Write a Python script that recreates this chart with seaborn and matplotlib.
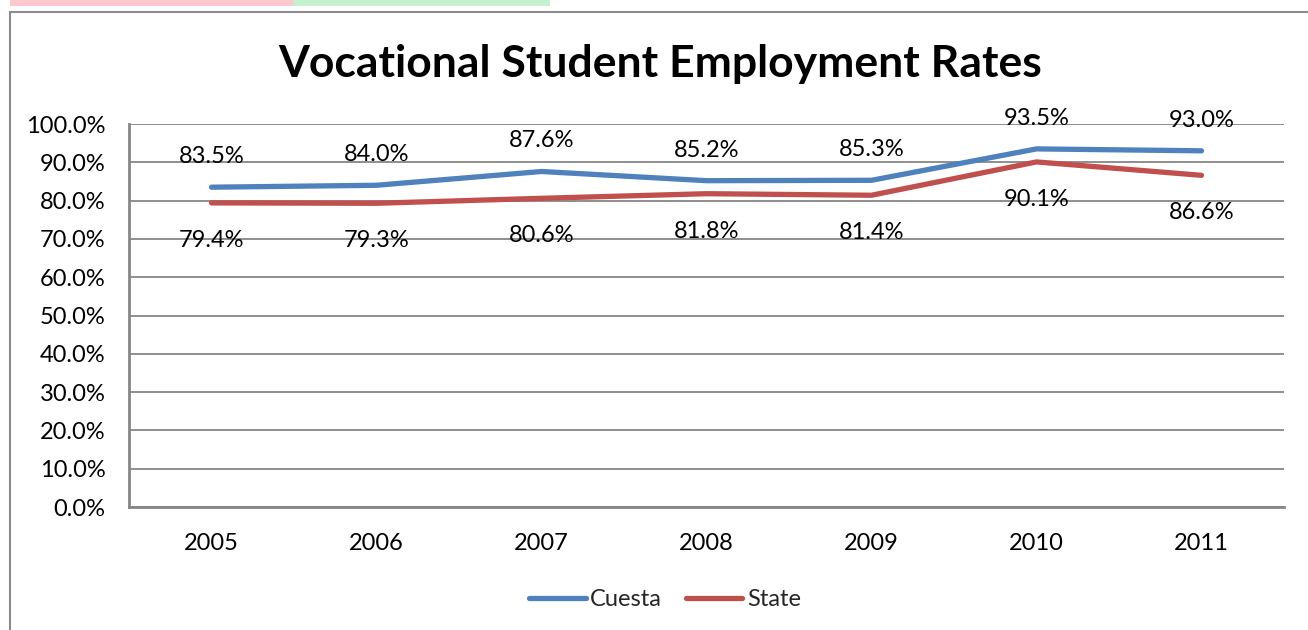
import matplotlib
matplotlib.use("Agg")
import matplotlib.pyplot as plt
import seaborn as sns
import pandas as pd
from matplotlib.patches import Rectangle
from matplotlib.lines import Line2D
from matplotlib.ticker import FuncFormatter

years = ["2005", "2006", "2007", "2008", "2009", "2010", "2011"]
cuesta = [83.5, 84.0, 87.6, 85.2, 85.3, 93.5, 93.0]
state = [79.4, 79.3, 80.6, 81.8, 81.4, 90.1, 86.6]
series_names = ["Cuesta", "State"]
title = "Vocational Student Employment Rates"

df = pd.DataFrame({
    "Year": years * 2,
    "Rate": cuesta + state,
    "Series": [series_names[0]] * len(years) + [series_names[1]] * len(years),
})
df["x"] = df["Year"].map({y: i for i, y in enumerate(years)})

sns.set_theme(style="white")
plt.rcParams["font.family"] = ["Lato", "DejaVu Sans"]

fig = plt.figure(figsize=(13.08, 6.3), dpi=100)
W, H = 1308, 630
ax = fig.add_axes([129 / W, 1 - 507 / H, (1284 - 129) / W, (507 - 124) / H])

palette = {"Cuesta": "#4F81BD", "State": "#C0504D"}
sns.lineplot(data=df, x="x", y="Rate", hue="Series", palette=palette,
             linewidth=3.8, ax=ax, legend=False, solid_capstyle="round")

ax.set_xlim(-0.5, len(years) - 0.5)
ax.set_ylim(0, 100)
ax.set_yticks(range(0, 101, 10))
ax.yaxis.set_major_formatter(FuncFormatter(lambda v, p: f"{v:.1f}%"))
ax.set_xticks(range(len(years)))
ax.set_xticklabels(years)
ax.set_xlabel("")
ax.set_ylabel("")
ax.grid(axis="y", color="#868686", linewidth=1.3)
ax.grid(axis="x", visible=False)
ax.set_axisbelow(True)
for s in ["top", "right"]:
    ax.spines[s].set_visible(False)
for s in ["left", "bottom"]:
    ax.spines[s].set_color("#868686")
    ax.spines[s].set_linewidth(2)
ax.tick_params(axis="y", length=0, pad=17, labelsize=17, labelcolor="black")
ax.tick_params(axis="x", length=0, pad=19, labelsize=17, labelcolor="black")

for i, v in enumerate(cuesta):
    ax.annotate(f"{v:.1f}%", (i, v), xytext=(0, 22), textcoords="offset points",
                ha="center", va="center", fontsize=17, color="black")
for i, v in enumerate(state):
    ax.annotate(f"{v:.1f}%", (i, v), xytext=(0, -27), textcoords="offset points",
                ha="center", va="center", fontsize=17, color="black")

fig.text(660 / W, 1 - 64 / H, title, ha="center", va="center",
         fontsize=32, fontweight="bold", color="black")

handles = [Line2D([0], [0], color=palette[n], linewidth=3.8, solid_capstyle="round") for n in series_names]
fig.legend(handles, series_names, loc="center", bbox_to_anchor=(665 / W, 1 - 600 / H),
           ncol=2, frameon=False, fontsize=17, handlelength=2.4, handletextpad=0.2,
           columnspacing=1.0)

# decorative strips and frame
fig.patches.append(Rectangle((10 / W, 1 - 6 / H), 283 / W, 6 / H, transform=fig.transFigure,
                             facecolor="#FFC7CE", edgecolor="none"))
fig.patches.append(Rectangle((293 / W, 1 - 6 / H), 257 / W, 6 / H, transform=fig.transFigure,
                             facecolor="#C6EFCE", edgecolor="none"))
fig.lines.append(Line2D([9.5 / W, 9.5 / W], [0, 1 - 12 / H], transform=fig.transFigure,
                        color="#8C8C8C", linewidth=1.5))
fig.lines.append(Line2D([9.5 / W, 1], [1 - 12 / H, 1 - 12 / H], transform=fig.transFigure,
                        color="#8C8C8C", linewidth=1.5))

fig.savefig("out.png", dpi=100)
